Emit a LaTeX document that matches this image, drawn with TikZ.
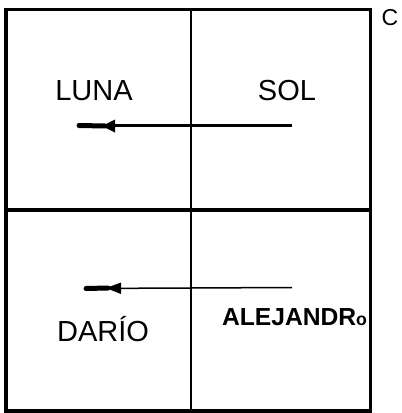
\documentclass[tikz,border=0pt]{standalone}
\usepackage{fontspec}
\setmainfont{Liberation Sans}
\begin{document}
\begin{tikzpicture}[x=1pt,y=-1pt,
  lbl/.style={font=\fontsize{29}{29}\selectfont, inner sep=0pt},
  boldlbl/.style={font=\fontsize{28}{28}\selectfont\bfseries, inner sep=0pt},
  shaft/.style={line width=2.6pt},
  thinshaft/.style={line width=1.5pt},
  stub/.style={line width=5pt, line cap=round}]
\useasboundingbox (0,0) rectangle (402,413);
% grid
\coordinate (tl) at (6,9.5);
\coordinate (br) at (370.5,411);
\draw[line width=3.6pt] (tl) rectangle (br);
\coordinate (mt) at (191,9.5);
\coordinate (mb) at (191,411);
\draw[line width=2.3pt] (mt) -- (mb);
\coordinate (ml) at (6,210);
\coordinate (mr) at (370.5,210);
\draw[line width=3.6pt] (ml) -- (mr);
% labels
\node[font=\fontsize{23}{23}\selectfont, inner sep=0pt] (c) at (390,17.5) {C};
\node[lbl] (luna) at (94,91) {LUNA};
\node[lbl] (sol) at (287,91) {SOL};
\node[lbl] (dario) at (103,329) {DARÍO};
\node[boldlbl, anchor=base] (alej) at (294.5,325) {\resizebox{145pt}{!}{ALEJANDR{\fontsize{20}{20}\selectfont o}}};
% top arrow
\coordinate (a1s) at (292,125.5);
\coordinate (a1e) at (79,125.5);
\draw[shaft] (a1s) -- (a1e);
\draw[stub] (a1e) -- ++(26,0.5);
\fill (102,126) -- (115,119.5) -- (115,132.5) -- cycle;
% bottom arrow
\coordinate (a2s) at (292,287.5);
\coordinate (a2e) at (86,288.5);
\draw[thinshaft] (a2s) -- (a2e);
\draw[stub] (a2e) -- ++(22,-0.5);
\fill (106,288) -- (121,282.5) -- (121,294) -- cycle;
\end{tikzpicture}
\end{document}
